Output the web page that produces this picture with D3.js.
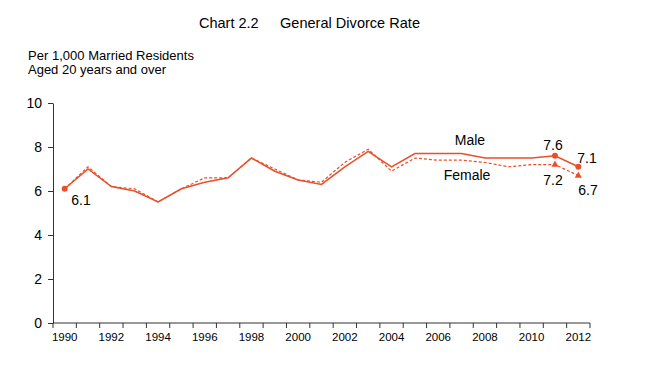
<!DOCTYPE html>
<html><head><meta charset="utf-8">
<script src="https://cdn.jsdelivr.net/npm/d3@7"></script>
<style>body{margin:0;background:#fff;} svg{display:block;font-family:"Liberation Sans",Arial,sans-serif;}</style>
</head><body>
<svg id="c" width="669" height="378"></svg>
<script>
const years = d3.range(1990, 2013);
const male =   [6.1,7.0,6.2,6.0,5.5,6.1,6.4,6.6,7.5,6.9,6.5,6.3,7.1,7.8,7.1,7.7,7.7,7.7,7.5,7.5,7.5,7.6,7.1];
const female = [6.1,7.1,6.2,6.1,5.5,6.1,6.6,6.6,7.5,7.0,6.5,6.4,7.3,7.9,6.9,7.5,7.4,7.4,7.3,7.1,7.2,7.2,6.7];
const yTicks = [0,2,4,6,8,10];
const xLabels = d3.range(1990, 2013, 2);
const color = "#E8502A";

const svg = d3.select("#c");
const x = d3.scaleBand().domain(years).range([53, 590]);
const y = d3.scaleLinear().domain([0,10]).range([323, 103]);
const cx = d => x(d) + x.bandwidth()/2;

// title
svg.append("text").attr("x",199).attr("y",28).attr("font-size",14.5).text("Chart 2.2");
svg.append("text").attr("x",280).attr("y",28).attr("font-size",14.5).attr("textLength",140).text("General Divorce Rate");
svg.append("text").attr("x",28).attr("y",59.5).attr("font-size",13).attr("textLength",166).text("Per 1,000  Married Residents");
svg.append("text").attr("x",28).attr("y",74).attr("font-size",13).attr("textLength",138).text("Aged 20 years  and over");

// y axis
const yAxis = svg.append("g").attr("transform","translate(53,0)")
  .call(d3.axisLeft(y).tickValues(yTicks).tickSize(5).tickSizeOuter(0).tickPadding(6));
yAxis.selectAll("text").attr("font-size",14).attr("font-family","Liberation Sans, Arial, sans-serif").attr("fill","#000");
yAxis.selectAll("line,path").attr("stroke","#333");

// x axis with ticks at category boundaries
const xg = svg.append("g").attr("transform","translate(0,323)");
xg.append("line").attr("x1",53).attr("x2",590).attr("stroke","#333");
const bounds = years.map(d => x(d)).concat([x(2012)+x.bandwidth()]);
xg.selectAll("line.t").data(bounds).join("line").attr("class","t")
  .attr("x1",d=>d).attr("x2",d=>d).attr("y1",0).attr("y2",5).attr("stroke","#333");
xg.selectAll("text").data(xLabels).join("text")
  .attr("x",d=>cx(d)).attr("y",18).attr("text-anchor","middle").attr("font-size",11.5).text(d=>d);

// lines
const line = arr => d3.line().x((d,i)=>cx(years[i])).y(d=>y(d))(arr);
svg.append("path").attr("d",line(female)).attr("fill","none").attr("stroke",color)
  .attr("stroke-width",1.2).attr("stroke-dasharray","3,2");
svg.append("path").attr("d",line(male)).attr("fill","none").attr("stroke",color).attr("stroke-width",1.5);

// markers
[0,21,22].forEach(i=>{
  svg.append("circle").attr("cx",cx(years[i])).attr("cy",y(male[i])).attr("r",3).attr("fill",color);
});
[21,22].forEach(i=>{
  svg.append("path").attr("d",d3.symbol(d3.symbolTriangle,22)())
    .attr("transform",`translate(${cx(years[i])},${y(female[i])})`).attr("fill",color);
});

// labels
const lab = (t,xx,yy)=>svg.append("text").attr("x",xx).attr("y",yy).attr("font-size",14).attr("text-anchor","middle").text(t);
lab(male[0].toFixed(1), 81, 205);
lab("Male", 470, 145);
lab("Female", 467, 180);
lab(male[21].toFixed(1), 553, 150);
lab(male[22].toFixed(1), 587, 163);
lab(female[21].toFixed(1), 553, 185);
lab(female[22].toFixed(1), 588, 195);
</script>
</body></html>
